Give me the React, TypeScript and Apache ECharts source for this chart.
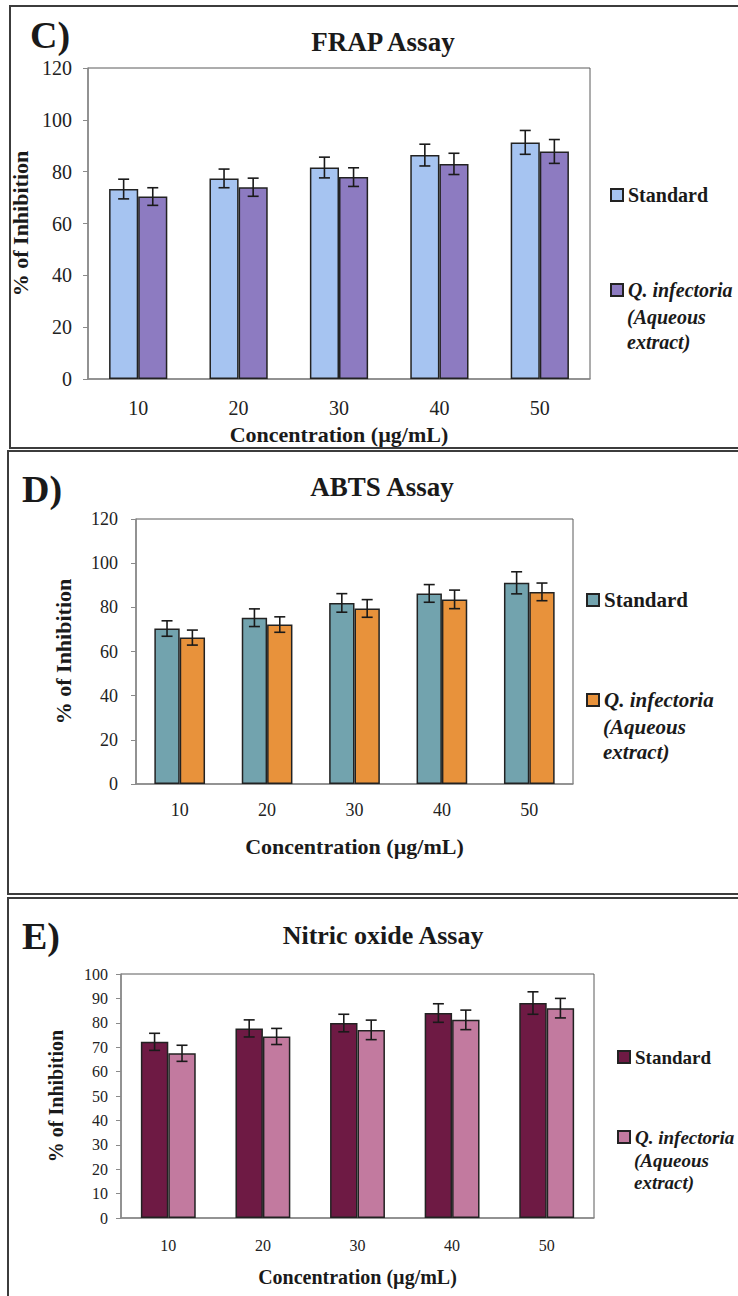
import React, { useEffect, useRef } from "react";
import * as echarts from "echarts";

// ---------- DATA ----------
const CATEGORIES = ["10", "20", "30", "40", "50"];
const SERIES_NAMES = ["Standard", "Q. infectoria"];

const FRAP_STANDARD = [73.3, 77.4, 81.6, 86.4, 91.3];
const FRAP_STANDARD_ERR = [3.8, 3.6, 4.0, 4.2, 4.6];
const FRAP_EXTRACT = [70.4, 74.0, 77.9, 83.0, 87.8];
const FRAP_EXTRACT_ERR = [3.4, 3.5, 3.6, 4.1, 4.6];

const ABTS_STANDARD = [70.4, 75.3, 82.0, 86.3, 91.1];
const ABTS_STANDARD_ERR = [3.5, 4.0, 4.2, 4.0, 5.0];
const ABTS_EXTRACT = [66.3, 72.2, 79.5, 83.6, 87.0];
const ABTS_EXTRACT_ERR = [3.4, 3.5, 4.0, 4.2, 4.0];

const NO_STANDARD = [72.2, 77.7, 79.9, 84.0, 88.1];
const NO_STANDARD_ERR = [3.5, 3.5, 3.6, 3.8, 4.6];
const NO_EXTRACT = [67.5, 74.4, 77.1, 81.2, 86.0];
const NO_EXTRACT_ERR = [3.3, 3.3, 4.0, 4.0, 4.0];

const Y_120 = { min: 0, max: 120, interval: 20 };
const Y_100 = { min: 0, max: 100, interval: 10 };

const FONT = "'Liberation Serif', 'Times New Roman', serif";
const INK = "#1a1a1a";

type Panel = {
  letter: string;
  title: string;
  top: number;
  height: number;
  border: { x: number; y: number; h: number };
  grid: { left: number; top: number; width: number; height: number };
  yAxis: { min: number; max: number; interval: number };
  std: number[];
  stdErr: number[];
  ext: number[];
  extErr: number[];
  colors: [string, string];
  letterPos: [number, number];
  letterSize: number;
  titlePos: [number, number];
  titleSize: number;
  tickSize: number;
  yLabelMargin: number;
  xLabelMargin: number;
  nameSize: number;
  yNameGap: number;
  xNameGap: number;
  legend: { sq: number; y1: number; y2: number; y3: number; y4: number; size: number };
};

const PANELS: Panel[] = [
  {
    letter: "C)",
    title: "FRAP Assay",
    top: 0,
    height: 450,
    border: { x: 10, y: 6, h: 442 },
    grid: { left: 88, top: 68, width: 502, height: 314 },
    yAxis: Y_120,
    std: FRAP_STANDARD,
    stdErr: FRAP_STANDARD_ERR,
    ext: FRAP_EXTRACT,
    extErr: FRAP_EXTRACT_ERR,
    colors: ["#A6C4F1", "#8D7BC1"],
    letterPos: [30, 35],
    letterSize: 38,
    titlePos: [383, 42],
    titleSize: 27,
    tickSize: 20,
    yLabelMargin: 16,
    xLabelMargin: 19,
    nameSize: 22,
    yNameGap: 46,
    xNameGap: 44,
    legend: { sq: 610, y1: 195, y2: 290, y3: 317, y4: 342, size: 20 },
  },
  {
    letter: "D)",
    title: "ABTS Assay",
    top: 450,
    height: 446,
    border: { x: 8, y: 1, h: 443 },
    grid: { left: 136, top: 69, width: 437, height: 265 },
    yAxis: Y_120,
    std: ABTS_STANDARD,
    stdErr: ABTS_STANDARD_ERR,
    ext: ABTS_EXTRACT,
    extErr: ABTS_EXTRACT_ERR,
    colors: ["#72A3AE", "#E8923B"],
    letterPos: [22, 39],
    letterSize: 38,
    titlePos: [382, 37],
    titleSize: 27,
    tickSize: 18,
    yLabelMargin: 18,
    xLabelMargin: 17,
    nameSize: 22,
    yNameGap: 62,
    xNameGap: 51,
    legend: { sq: 586, y1: 150, y2: 250, y3: 277, y4: 302, size: 21 },
  },
  {
    letter: "E)",
    title: "Nitric oxide Assay",
    top: 896,
    height: 400,
    border: { x: 8, y: 2, h: 600 },
    grid: { left: 121, top: 78, width: 473, height: 244 },
    yAxis: Y_100,
    std: NO_STANDARD,
    stdErr: NO_STANDARD_ERR,
    ext: NO_EXTRACT,
    extErr: NO_EXTRACT_ERR,
    colors: ["#6E1A44", "#C27A9F"],
    letterPos: [22, 40],
    letterSize: 38,
    titlePos: [383, 39],
    titleSize: 26,
    tickSize: 16,
    yLabelMargin: 13,
    xLabelMargin: 19,
    nameSize: 20,
    yNameGap: 55,
    xNameGap: 49,
    legend: { sq: 617, y1: 161, y2: 241, y3: 264, y4: 286, size: 19 },
  },
];

function errorSeries(values: number[], errs: number[], side: number) {
  return {
    type: "custom",
    z: 5,
    silent: true,
    data: CATEGORIES.map((_, i) => [i, values[i], errs[i]]),
    encode: { x: 0, y: 1 },
    renderItem: (_params: any, api: any) => {
      const idx = api.value(0);
      const v = api.value(1);
      const e = api.value(2);
      const c = api.coord([idx, v]);
      const band = api.size([1, 0])[0];
      const x = c[0] + side * band * 0.145;
      const yTop = api.coord([idx, v + e])[1];
      const yBot = api.coord([idx, v - e])[1];
      const cap = 5.5;
      const st = { stroke: INK, lineWidth: 1.6 };
      return {
        type: "group",
        children: [
          { type: "line", shape: { x1: x, y1: yTop, x2: x, y2: yBot }, style: st },
          { type: "line", shape: { x1: x - cap, y1: yTop, x2: x + cap, y2: yTop }, style: st },
          { type: "line", shape: { x1: x - cap, y1: yBot, x2: x + cap, y2: yBot }, style: st },
        ],
      };
    },
  };
}

function makeOption(p: Panel) {
  const textBase = { fontFamily: FONT, fontWeight: "bold", fill: INK };
  const lg = p.legend;
  const legendText = {
    fontFamily: FONT,
    fontWeight: "bold",
    fontSize: lg.size,
    color: INK,
    lineHeight: 24,
  };
  return {
    animation: false,
    backgroundColor: "#ffffff",
    grid: {
      ...p.grid,
      show: true,
      borderColor: "#5a5a5a",
      borderWidth: 1,
      backgroundColor: "transparent",
    },
    xAxis: {
      type: "category",
      data: CATEGORIES,
      name: "Concentration (µg/mL)",
      nameLocation: "middle",
      nameGap: p.xNameGap,
      nameTextStyle: { fontFamily: FONT, fontWeight: "bold", fontSize: p.nameSize, color: INK },
      axisLine: { show: true, lineStyle: { color: "#8a8a8a", width: 1.5 } },
      axisTick: { show: false },
      axisLabel: { fontFamily: FONT, fontSize: p.tickSize, color: "#222", margin: p.xLabelMargin },
      splitLine: { show: false },
    },
    yAxis: {
      type: "value",
      min: p.yAxis.min,
      max: p.yAxis.max,
      interval: p.yAxis.interval,
      name: "% of Inhibition",
      nameLocation: "middle",
      nameGap: p.yNameGap,
      nameRotate: 90,
      nameTextStyle: { fontFamily: FONT, fontWeight: "bold", fontSize: p.nameSize, color: INK },
      axisLine: { show: true, lineStyle: { color: "#8a8a8a", width: 1.5 } },
      axisTick: { show: true, inside: false, length: 5, lineStyle: { color: "#8a8a8a" } },
      axisLabel: { fontFamily: FONT, fontSize: p.tickSize, color: "#222", margin: p.yLabelMargin },
      splitLine: { show: false },
    },
    legend: [
      {
        data: [SERIES_NAMES[0]],
        left: lg.sq,
        top: lg.y1 - 12,
        padding: 0,
        icon: "rect",
        itemWidth: 12,
        itemHeight: 12,
        selectedMode: false,
        textStyle: legendText,
      },
      {
        data: [SERIES_NAMES[1]],
        left: lg.sq,
        top: lg.y2 - 12,
        padding: 0,
        icon: "rect",
        itemWidth: 12,
        itemHeight: 12,
        selectedMode: false,
        textStyle: { ...legendText, fontStyle: "italic" },
      },
    ],
    series: [
      {
        name: SERIES_NAMES[0],
        type: "bar",
        data: p.std,
        barGap: "0%",
        barCategoryGap: "42%",
        itemStyle: { color: p.colors[0], borderColor: "#222", borderWidth: 1.5 },
      },
      {
        name: SERIES_NAMES[1],
        type: "bar",
        data: p.ext,
        barGap: "0%",
        barCategoryGap: "42%",
        itemStyle: { color: p.colors[1], borderColor: "#222", borderWidth: 1.5 },
      },
      errorSeries(p.std, p.stdErr, -1),
      errorSeries(p.ext, p.extErr, 1),
    ],
    graphic: [
      {
        type: "rect",
        silent: true,
        shape: { x: p.border.x, y: p.border.y, width: 900, height: p.border.h },
        style: { fill: "none", stroke: "#3c3c3c", lineWidth: 2 },
      },
      {
        type: "text",
        x: p.letterPos[0],
        y: p.letterPos[1],
        style: {
          ...textBase,
          text: p.letter,
          fontSize: p.letterSize,
          align: "left",
          verticalAlign: "middle",
          textAlign: "left",
          textVerticalAlign: "middle",
        },
      },
      {
        type: "text",
        x: p.titlePos[0],
        y: p.titlePos[1],
        style: {
          ...textBase,
          text: p.title,
          fontSize: p.titleSize,
          align: "center",
          verticalAlign: "middle",
          textAlign: "center",
          textVerticalAlign: "middle",
        },
      },
      {
        type: "text",
        x: lg.sq + 17,
        y: lg.y3,
        style: {
          ...textBase,
          text: "(Aqueous",
          fontSize: lg.size,
          fontStyle: "italic",
          align: "left",
          verticalAlign: "middle",
          textAlign: "left",
          textVerticalAlign: "middle",
        },
      },
      {
        type: "text",
        x: lg.sq + 17,
        y: lg.y4,
        style: {
          ...textBase,
          text: "extract)",
          fontSize: lg.size,
          fontStyle: "italic",
          align: "left",
          verticalAlign: "middle",
          textAlign: "left",
          textVerticalAlign: "middle",
        },
      },
    ],
  };
}

function ChartPanel({ panel }: { panel: Panel }) {
  const ref = useRef<HTMLDivElement>(null);
  useEffect(() => {
    if (!ref.current) return;
    const chart = echarts.init(ref.current, undefined, { renderer: "svg" });
    chart.setOption(makeOption(panel) as any);
    return () => chart.dispose();
  }, [panel]);
  return (
    <div
      ref={ref}
      style={{
        position: "absolute",
        left: 0,
        top: panel.top,
        width: 738,
        height: panel.height,
      }}
    />
  );
}

export default function App() {
  return (
    <div
      style={{
        position: "absolute",
        left: 0,
        top: 0,
        width: 738,
        height: 1296,
        background: "#ffffff",
        overflow: "hidden",
      }}
    >
      {PANELS.map((p) => (
        <ChartPanel key={p.letter} panel={p} />
      ))}
    </div>
  );
}
